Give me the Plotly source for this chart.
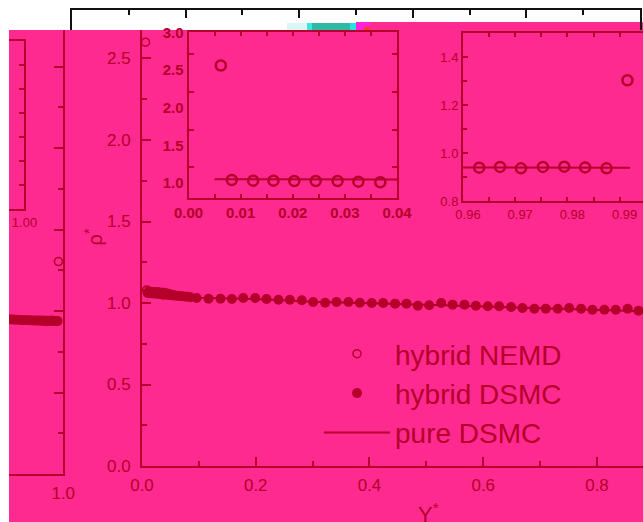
import plotly.graph_objects as go

# ---------------- data ----------------
# hybrid NEMD: molecular-dynamics cells next to the two walls
nemd_x = [0.0062, 0.0083, 0.0124, 0.0163, 0.0203, 0.0244, 0.0286, 0.0326, 0.0368,
          0.9631, 0.9671, 0.9711, 0.9753, 0.9794, 0.9834, 0.9875, 0.9915]
nemd_rho = [2.60, 1.080, 1.071, 1.071, 1.067, 1.067, 1.067, 1.058, 1.050,
            0.939, 0.942, 0.936, 0.942, 0.943, 0.940, 0.936, 1.303]

# hybrid DSMC: particle cells across the channel (finer cells near the walls)
dsmc_x = [0.010, 0.015, 0.020, 0.025, 0.030, 0.035, 0.040, 0.045,
          0.050, 0.055, 0.060, 0.065, 0.070, 0.075, 0.080, 0.085,
          0.096, 0.117, 0.138, 0.158, 0.178, 0.199, 0.219, 0.240, 0.260, 0.281,
          0.301, 0.322, 0.342, 0.363, 0.383, 0.404, 0.424, 0.445, 0.465, 0.485,
          0.505, 0.526, 0.546, 0.567, 0.587, 0.608, 0.628, 0.649, 0.669, 0.690,
          0.710, 0.731, 0.751, 0.772, 0.792, 0.813, 0.833, 0.854, 0.873,
          0.905, 0.910, 0.915, 0.920, 0.925, 0.930, 0.935, 0.940, 0.945,
          0.950, 0.955, 0.960, 0.965, 0.970, 0.975, 0.980, 0.985, 0.990]
dsmc_rho = [1.062, 1.060, 1.058, 1.057, 1.055, 1.053, 1.052, 1.050,
            1.048, 1.046, 1.045, 1.043, 1.041, 1.040, 1.038, 1.035,
            1.031, 1.026, 1.026, 1.025, 1.031, 1.031, 1.025, 1.020, 1.020, 1.017,
            1.006, 1.002, 1.006, 1.006, 1.002, 1.000, 1.000, 0.996, 0.996, 0.983,
            0.986, 1.000, 0.990, 0.990, 0.983, 0.980, 0.980, 0.975, 0.969, 0.965,
            0.965, 0.965, 0.969, 0.965, 0.959, 0.959, 0.959, 0.965, 0.953,
            0.950, 0.948, 0.947, 0.946, 0.945, 0.944, 0.944, 0.943, 0.942,
            0.942, 0.941, 0.941, 0.940, 0.940, 0.939, 0.939, 0.938, 0.938]

# pure DSMC reference profile
pure_x = [0.005, 0.040, 0.100, 0.200, 0.300, 0.400, 0.500, 0.600, 0.700, 0.800,
          0.900, 0.960, 0.992]
pure_rho = [1.090, 1.088, 1.032, 1.025, 1.008, 1.000, 0.990, 0.978, 0.967, 0.960,
            0.950, 0.940, 0.939]

# ---------------- styling ----------------
W, H = 643, 522
RED = "#B4002A"
PINK = "#FF2A8F"
FONT = "Liberation Sans, Arial, sans-serif"


def fx(p):
    return p / W


def fy(p):
    return 1 - p / H


fig = go.Figure()


def add_profiles(xa, ya, nemd_size, nemd_lw, with_dsmc, legend):
    fig.add_trace(go.Scatter(
        x=nemd_x, y=nemd_rho, mode="markers", name="hybrid NEMD",
        marker=dict(symbol="circle-open", size=nemd_size, color=RED,
                    line=dict(width=nemd_lw, color=RED)),
        xaxis=xa, yaxis=ya, showlegend=legend))
    if with_dsmc:
        fig.add_trace(go.Scatter(
            x=dsmc_x, y=dsmc_rho, mode="markers", name="hybrid DSMC",
            marker=dict(symbol="circle", size=10, color=RED),
            xaxis=xa, yaxis=ya, showlegend=legend))
    fig.add_trace(go.Scatter(
        x=pure_x, y=pure_rho, mode="lines", name="pure DSMC",
        line=dict(color=RED, width=2),
        xaxis=xa, yaxis=ya, showlegend=legend))


add_profiles("x", "y", 8, 1.5, True, True)        # main panel
add_profiles("x2", "y2", 8, 1.5, True, False)     # right end of the channel
add_profiles("x3", "y3", 10, 2.5, False, False)   # inset near Y*=0
add_profiles("x4", "y4", 10, 2.5, False, False)   # inset near Y*=1
add_profiles("x5", "y5", 10, 2.5, False, False)   # edge of the right inset
fig.add_trace(go.Scatter(x=[], y=[], xaxis="x6", yaxis="y6", showlegend=False))

axis_common = dict(showline=True, linecolor=RED, linewidth=2, showgrid=False,
                   zeroline=False, ticks="inside", tickcolor=RED, tickwidth=2,
                   automargin=False, tickfont=dict(family=FONT, color=RED))

main_minor = dict(ticks="inside", ticklen=5, tickwidth=2, tickcolor=RED)

fig.update_layout(
    template="none",
    width=W, height=H, margin=dict(l=0, r=0, t=0, b=0, autoexpand=False),
    paper_bgcolor="white", plot_bgcolor="rgba(0,0,0,0)",
    font=dict(family=FONT, color=RED),
    # main panel
    xaxis=dict(**axis_common, domain=[fx(142), 1], range=[0, 0.8809], anchor="y",
               dtick=0.2, tick0=0, tickformat=".1f", ticklen=9,
               minor=dict(dtick=0.1, **main_minor), ticklabelstandoff=3),
    yaxis=dict(**axis_common, domain=[fy(466), fy(30)], range=[0, 2.6748], anchor="x",
               dtick=0.5, tick0=0, tickformat=".1f", ticklen=9,
               minor=dict(dtick=0.25, **main_minor), ticklabelstandoff=6),
    # right end of the channel
    xaxis2=dict(**axis_common, domain=[fx(9), fx(63.25)], range=[0.90462, 1.0],
                anchor="y2", tickvals=[1.0], ticktext=["1.0"], ticklen=0,
                ticklabelstandoff=3),
    yaxis2=dict(**axis_common, domain=[fy(474), fy(30)], range=[0, 2.7239],
                anchor="x2", side="right", dtick=0.5, tick0=0, ticklen=9,
                showticklabels=False, minor=dict(dtick=0.25, **main_minor)),
    # inset near the left wall
    xaxis3=dict(**axis_common, domain=[fx(188.5), fx(397)], range=[0, 0.04],
                anchor="y3", mirror="allticks", dtick=0.01, tick0=0, tickformat=".2f",
                ticklen=4, minor=dict(dtick=0.005, ticks="inside", ticklen=4,
                                      tickwidth=2, tickcolor=RED)),
    yaxis3=dict(**axis_common, domain=[fy(198.3), fy(32)], range=[0.837, 3.045],
                anchor="x3", mirror="allticks", dtick=0.5, tick0=1.0, tickformat=".1f",
                ticklen=0, ticklabelshift=-3,
                minor=dict(tick0=1.25, dtick=0.5, ticks="inside", ticklen=5,
                           tickwidth=2, tickcolor=RED)),
    # inset near the right wall
    xaxis4=dict(**axis_common, domain=[fx(463), 1], range=[0.96, 0.99448],
                anchor="y4", mirror="allticks", dtick=0.01, tick0=0.96, tickformat=".2f",
                ticklen=4, ticklabelshift=5,
                minor=dict(dtick=0.005, ticks="inside", ticklen=4, tickwidth=2,
                           tickcolor=RED)),
    yaxis4=dict(**axis_common, domain=[fy(201), fy(33)], range=[0.8, 1.5],
                anchor="x4", dtick=0.2, tick0=0.8, tickformat=".1f", ticklen=5,
                minor=dict(dtick=0.1, ticks="inside", ticklen=4, tickwidth=2,
                           tickcolor=RED)),
    # right edge of the right inset
    xaxis5=dict(**axis_common, domain=[fx(9), fx(23.5)], range=[0.99722, 1.0],
                anchor="y5", mirror=True, tickvals=[1.0], ticktext=["1.00"],
                ticklen=0, ticklabelshift=1),
    yaxis5=dict(**axis_common, domain=[fy(209), fy(41)], range=[0.8, 1.5],
                anchor="x5", side="right", dtick=0.1, tick0=0.8, ticklen=5,
                showticklabels=False),
    # black frame edge along the top
    xaxis6=dict(domain=[fx(72), fx(640)], range=[0, 1], anchor="y6", side="top",
                showline=True, linecolor="#111111", linewidth=2, showgrid=False,
                zeroline=False, ticks="inside", tickcolor="#111111", tickwidth=2,
                ticklen=8, dtick=0.2, tick0=0, showticklabels=False, automargin=False,
                minor=dict(dtick=0.1, ticks="inside", ticklen=5, tickwidth=2,
                           tickcolor="#111111")),
    yaxis6=dict(domain=[fy(30), fy(10)], range=[0, 1], anchor="x6",
                showline=True, mirror=True, linecolor="#111111", linewidth=2,
                showgrid=False, zeroline=False, ticks="", showticklabels=False,
                automargin=False),
    legend=dict(x=fx(319), y=fy(329), xanchor="left", yanchor="top",
                bgcolor="rgba(0,0,0,0)", borderwidth=0, itemwidth=66,
                font=dict(family=FONT, size=28, color=RED)),
)

for ax in ("xaxis", "yaxis", "xaxis2"):
    fig.layout[ax].tickfont.size = 17
fig.layout.xaxis3.tickfont.update(size=15, weight="bold")
fig.layout.yaxis3.tickfont.update(size=15, weight="bold")
fig.layout.xaxis4.tickfont.size = 13
fig.layout.yaxis4.tickfont.size = 13
fig.layout.xaxis5.tickfont.size = 13

# background panels
shapes = [
    dict(x0=fx(9), x1=1, y0=0, y1=fy(30), color=PINK),
    dict(x0=fx(370), x1=1, y0=fy(30), y1=fy(22), color=PINK),
    dict(x0=fx(287), x1=fx(307), y0=fy(30), y1=fy(23), color="#D9F7F4"),
    dict(x0=fx(307), x1=fx(312), y0=fy(30), y1=fy(23), color="#3FE3E3"),
    dict(x0=fx(312), x1=fx(350), y0=fy(30), y1=fy(23), color="#2FB9A4"),
    dict(x0=fx(350), x1=fx(356), y0=fy(30), y1=fy(23), color="#25E2E6"),
    dict(x0=fx(356), x1=fx(370), y0=fy(30), y1=fy(22), color="#FF22D8"),
    dict(x0=fx(364), x1=fx(370), y0=fy(32), y1=fy(27), color="#FF3A1E"),
]
for s in shapes:
    fig.add_shape(type="rect", xref="paper", yref="paper", x0=s["x0"], x1=s["x1"],
                  y0=s["y0"], y1=s["y1"], fillcolor=s["color"], line=dict(width=0),
                  layer="below")

fig.add_annotation(text="ρ<sup>*</sup>", xref="paper", yref="paper",
                   x=fx(78), y=fy(237), textangle=-90, showarrow=False,
                   font=dict(family=FONT, size=20, color=RED))
fig.add_annotation(text="Y<sup>*</sup>", xref="paper", yref="paper",
                   x=fx(428), y=fy(497), xanchor="center", yanchor="top",
                   showarrow=False, font=dict(family=FONT, size=22, color=RED))

fig.write_html("out.html")
